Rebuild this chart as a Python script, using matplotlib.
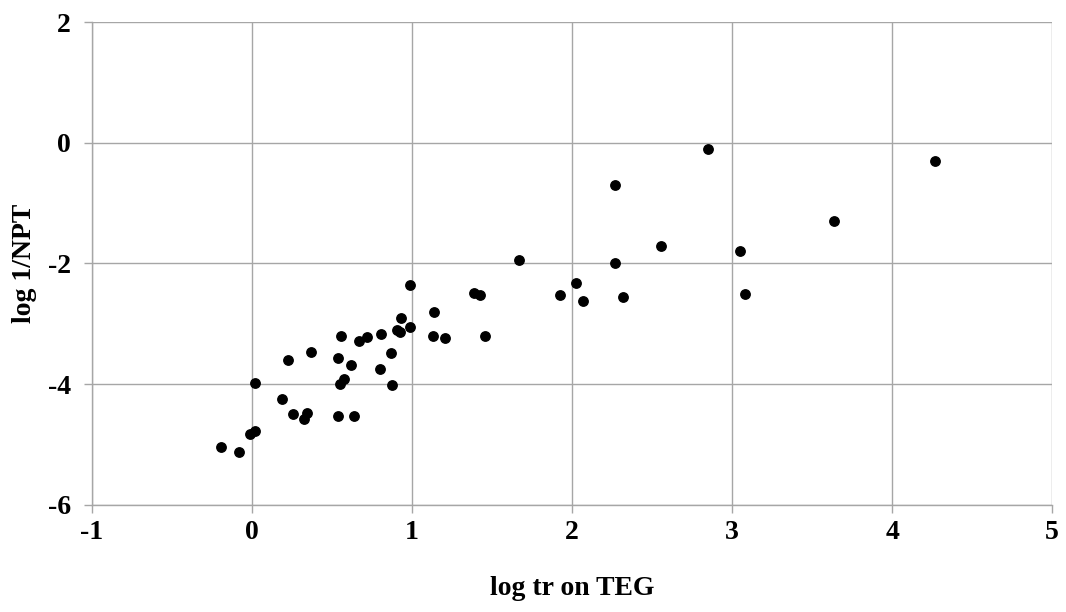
import matplotlib
matplotlib.use("Agg")
import matplotlib.pyplot as plt

# values
log_tr = [-0.194, -0.081, -0.013, 0.019, 0.019, 0.186, 0.258, 0.327, 0.346, 0.225,
          0.367, 0.536, 0.636, 0.536, 0.548, 0.577, 0.619, 0.556, 0.667, 0.719,
          0.806, 0.798, 0.867, 0.875, 0.908, 0.923, 0.929, 0.988, 1.128, 1.206,
          1.458, 0.988, 1.386, 1.427, 1.138, 1.667, 1.927, 2.025, 2.067, 2.269,
          2.269, 2.319, 2.558, 2.848, 3.048, 3.079, 3.639, 4.271]
log_npt = [-5.04, -5.12, -4.83, -4.77, -3.98, -4.24, -4.49, -4.57, -4.47, -3.60,
           -3.47, -4.53, -4.52, -3.56, -4.00, -3.91, -3.69, -3.21, -3.29, -3.22,
           -3.17, -3.75, -3.48, -4.02, -3.11, -3.14, -2.91, -3.05, -3.20, -3.24,
           -3.21, -2.36, -2.49, -2.53, -2.80, -1.94, -2.53, -2.32, -2.62, -0.70,
           -1.99, -2.55, -1.71, -0.10, -1.79, -2.50, -1.29, -0.30]

x_ticks = [-1, 0, 1, 2, 3, 4, 5]
y_ticks = [-6, -4, -2, 0, 2]

plt.rcParams["font.family"] = ["Liberation Serif", "DejaVu Serif"]
plt.rcParams["font.weight"] = "bold"
plt.rcParams["axes.unicode_minus"] = False

fig = plt.figure(figsize=(10.66, 6.12), dpi=100)
ax = fig.add_axes([0.0863, 0.175, 0.9007, 0.789])

ax.scatter(log_tr, log_npt, s=46, color="black", zorder=3)

ax.set_xlim(-1, 5)
ax.set_ylim(-6, 2)
ax.set_xticks(x_ticks)
ax.set_yticks(y_ticks)
ax.grid(True, color="#a6a6a6", linewidth=1)
ax.set_axisbelow(True)

for side in ["top", "right"]:
    ax.spines[side].set_visible(False)
for side in ["left", "bottom"]:
    ax.spines[side].set_color("#a6a6a6")
    ax.spines[side].set_linewidth(1)

ax.tick_params(axis="both", colors="#a6a6a6", length=6, width=1, labelsize=20,
               labelcolor="black")
ax.tick_params(axis="x", pad=5)
ax.tick_params(axis="y", pad=9)

ax.set_xlabel("log tr on TEG", fontsize=20, fontweight="bold", labelpad=22)
ax.set_ylabel("log 1/NPT", fontsize=20, fontweight="bold", labelpad=8)

fig.savefig("out.png", dpi=100)
